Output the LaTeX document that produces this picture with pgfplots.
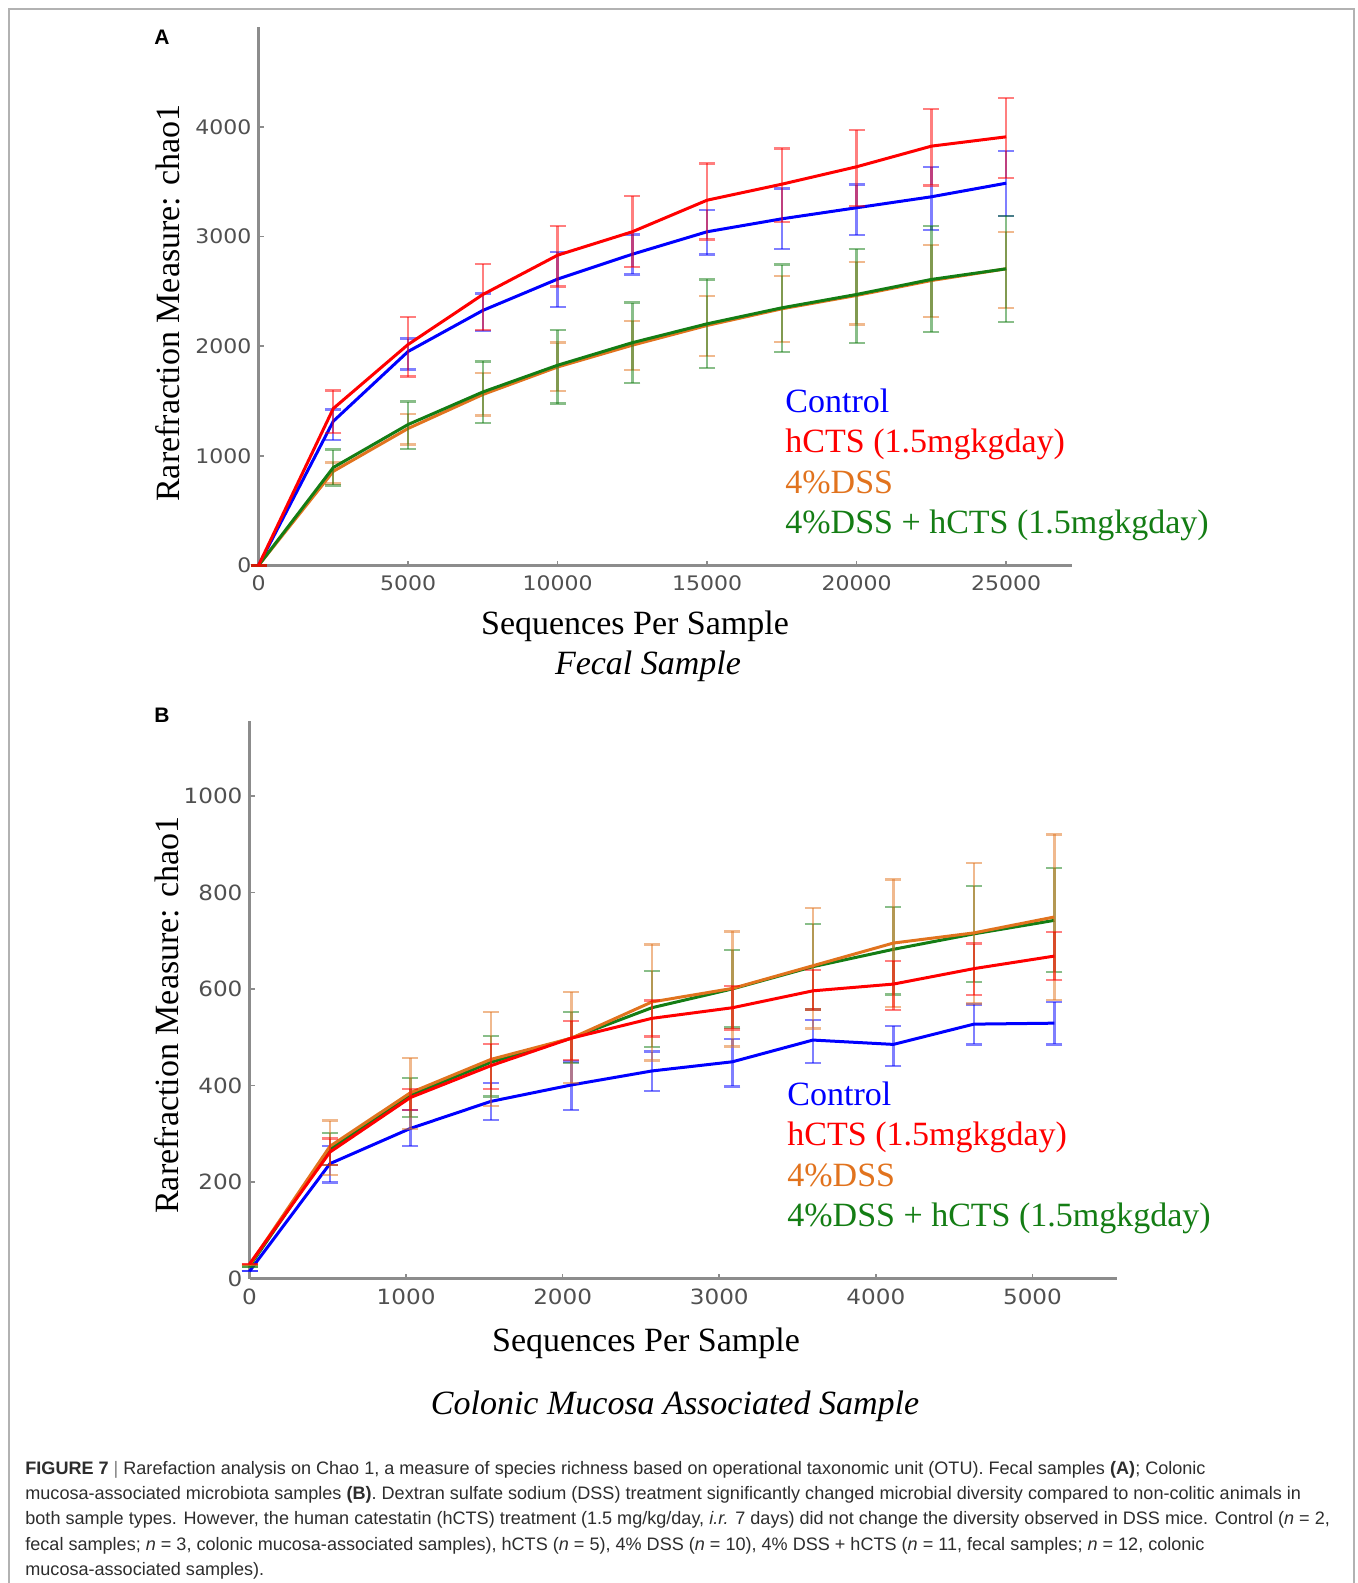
\documentclass[border=0pt]{standalone}
\usepackage{pgfplots}
\pgfplotsset{compat=1.18}
\usepackage{pgfplotstable}
\usepackage{fontspec}
\setmainfont{Liberation Serif}
\newfontfamily\tickfont[FakeStretch=1.1]{DejaVu Sans}
\newfontfamily\capfont{Liberation Sans}

\definecolor{cblue}{RGB}{0,0,255}
\definecolor{cred}{RGB}{255,0,0}
\definecolor{corange}{RGB}{225,115,30}
\definecolor{cgreen}{RGB}{20,125,20}
\definecolor{axgray}{RGB}{140,140,140}
\definecolor{tickgray}{RGB}{80,80,80}
\definecolor{capgray}{RGB}{45,45,45}

\newcommand\lab{\fontsize{17}{20}\selectfont}

% panel A: x, y, top, bottom of error bar
\pgfplotstableread{
x y top bot
0 0 0 0
2500 1316 1423 1143
5000 1952 2071 1788
7500 2327 2482 2137
10000 2613 2860 2360
12500 2840 3020 2655
15000 3045 3242 2837
17500 3163 3440 2890
20000 3264 3476 3014
22500 3364 3638 3059
25000 3488 3780 3187
}\ctlA
\pgfplotstableread{
x y top bot
0 0 0 0
2500 1432 1597 1210
5000 2016 2267 1724
7500 2472 2750 2147
10000 2831 3098 2545
12500 3045 3370 2725
15000 3333 3668 2975
17500 3479 3805 3132
20000 3638 3975 3278
22500 3826 4167 3467
25000 3911 4264 3534
}\ctsA
\pgfplotstableread{
x y top bot
0 0 0 0
2500 859 941 748
5000 1250 1381 1104
7500 1560 1755 1369
10000 1811 2034 1593
12500 2010 2228 1782
15000 2190 2457 1910
17500 2342 2640 2041
20000 2464 2767 2199
22500 2600 2923 2269
25000 2707 3045 2351
}\dssA
\pgfplotstableread{
x y top bot
0 0 0 0
2500 894 1058 730
5000 1286 1496 1062
7500 1583 1863 1299
10000 1827 2147 1478
12500 2033 2398 1666
15000 2205 2610 1800
17500 2351 2746 1946
20000 2473 2890 2032
22500 2610 3096 2132
25000 2707 3187 2220
}\bothA

% panel B
\pgfplotstableread{
x y top bot
0 15 15 15
514 238 274 199
1028 311 349 274
1542 367 405 328
2056 401 450 349
2570 430 470 388
3084 449 496 398
3598 494 535 446
4112 485 523 440
4626 527 568 485
5140 529 573 485
}\ctlB
\pgfplotstableread{
x y top bot
0 30 30 30
514 262 290 235
1028 375 393 349
1542 441 486 393
2056 498 534 453
2570 539 576 501
3084 561 606 516
3598 596 639 557
4112 610 658 556
4626 642 694 587
5140 668 718 618
}\ctsB
\pgfplotstableread{
x y top bot
0 28 28 28
514 274 327 214
1028 385 457 310
1542 454 552 357
2056 498 594 405
2570 573 692 452
3084 601 719 481
3598 648 767 518
4112 695 827 563
4626 716 861 570
5140 749 920 577
}\dssB
\pgfplotstableread{
x y top bot
0 25 25 25
514 268 302 235
1028 380 415 334
1542 448 502 377
2056 498 552 446
2570 561 637 480
3084 600 680 520
3598 646 734 557
4112 682 770 588
4626 714 813 614
5140 742 850 635
}\bothB

\pgfplotsset{
	rare/.style={
		scale only axis,
		anchor=south west,
		axis x line*=bottom,
		axis y line*=left,
		axis line style={axgray, line width=1.3pt, -},
		tick align=inside,
		major tick length=2.5pt,
		tick style={axgray, line width=0.8pt},
		ticklabel style={font=\tickfont\fontsize{#1}{11}\selectfont, text=tickgray},
		xticklabel style={yshift=-1.5pt},
		/pgf/number format/assume math mode=true,
		/pgf/number format/set thousands separator={},
		scaled ticks=false,
		xmin=0, ymin=0,
		clip=false,
	},
	rare line/.style={
		line width=1.5pt, no markers,
		error bars/.cd, y dir=both, y explicit,
		error bar style={line width=1.2pt, opacity=0.5},
		error mark options={rotate=90, mark size=4pt, line width=1.2pt, opacity=0.5},
	},
}
\newcommand\series[2]{%
	\addplot[#1, rare line] table[x=x, y=y,
		y error plus expr=\thisrow{top}-\thisrow{y},
		y error minus expr=\thisrow{y}-\thisrow{bot}] {#2};}

\begin{document}
\begin{tikzpicture}[x=0.5pt,y=0.5pt]
% frame of the figure
\draw[gray!60, line width=0.8pt] (9,-1583) -- (9,-9) -- (1354,-9) -- (1354,-1583);

% ---- panel A
\node[font=\capfont\bfseries\fontsize{10.5}{12}\selectfont] at (162,-37) {A};
\begin{axis}[rare=10, at={(129.25pt,-282.75pt)}, width=406.75pt, height=269.25pt,
	xmax=27200, ymax=4913,
	xtick={0,5000,...,25000}, ytick={0,1000,...,4000}]
	\series{cblue}{\ctlA}
	\series{corange}{\dssA}
	\series{cgreen}{\bothA}
	\series{cred}{\ctsA}
\end{axis}
\node[rotate=90, font=\lab] at (168,-303) {Rarefraction Measure: chao1};
\node[anchor=base, font=\lab] at (635,-634) {Sequences Per Sample};
\node[anchor=base, font=\lab\itshape] at (648,-674) {Fecal Sample};
\begin{scope}[font=\lab, every node/.style={anchor=base west, inner sep=0pt}]
	\node[text=cblue] at (785,-412) {Control};
	\node[text=cred] at (785,-452.5) {hCTS (1.5mgkgday)};
	\node[text=corange] at (785,-493) {4\%DSS};
	\node[text=cgreen] at (785,-533.5) {4\%DSS + hCTS (1.5mgkgday)};
\end{scope}

% ---- panel B
\node[font=\capfont\bfseries\fontsize{10.5}{12}\selectfont] at (162,-715) {B};
\begin{axis}[rare=10.5, at={(124.75pt,-639.25pt)}, width=433.75pt, height=278.75pt,
	xmax=5540, ymax=1155,
	xtick={0,1000,...,5000}, ytick={0,200,...,1000}]
	\series{cblue}{\ctlB}
	\series{cgreen}{\bothB}
	\series{corange}{\dssB}
	\series{cred}{\ctsB}
\end{axis}
\node[rotate=90, font=\lab] at (167,-1015) {Rarefraction Measure: chao1};
\node[anchor=base, font=\lab] at (646,-1351) {Sequences Per Sample};
\node[anchor=base, font=\lab\itshape] at (675,-1414) {Colonic Mucosa Associated Sample};
\begin{scope}[font=\lab, every node/.style={anchor=base west, inner sep=0pt}]
	\node[text=cblue] at (787,-1105) {Control};
	\node[text=cred] at (787,-1145.5) {hCTS (1.5mgkgday)};
	\node[text=corange] at (787,-1186) {4\%DSS};
	\node[text=cgreen] at (787,-1226.5) {4\%DSS + hCTS (1.5mgkgday)};
\end{scope}

% ---- caption
\begin{scope}[every node/.style={anchor=base west, inner sep=0pt, text=capgray,
		font=\capfont\fontsize{9.03}{11}\selectfont}]
	\node at (25,-1474) {\textbf{FIGURE 7} {\color{gray}|} Rarefaction analysis on Chao 1, a measure of species richness based on operational taxonomic unit (OTU). Fecal samples \textbf{(A)}; Colonic};
	\node at (25,-1499) {mucosa-associated microbiota samples \textbf{(B)}. Dextran sulfate sodium (DSS) treatment significantly changed microbial diversity compared to non-colitic animals in};
	\node at (25,-1524) {both sample types. However, the human catestatin (hCTS) treatment (1.5 mg/kg/day, \textit{i.r.} 7 days) did not change the diversity observed in DSS mice. Control (\textit{n} = 2,};
	\node at (25,-1550) {fecal samples; \textit{n} = 3, colonic mucosa-associated samples), hCTS (\textit{n} = 5), 4\% DSS (\textit{n} = 10), 4\% DSS + hCTS (\textit{n} = 11, fecal samples; \textit{n} = 12, colonic};
	\node at (25,-1575) {mucosa-associated samples).};
\end{scope}

\pgfresetboundingbox
\path[use as bounding box] (0,0) rectangle (1358,-1583);
\end{tikzpicture}
\end{document}
